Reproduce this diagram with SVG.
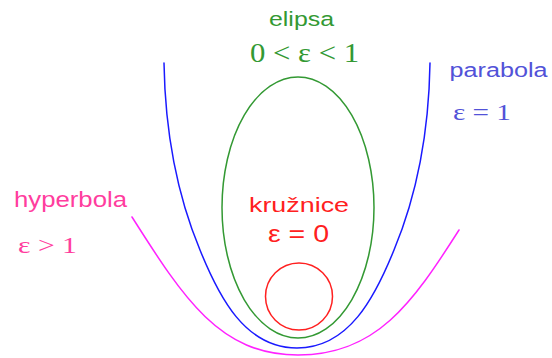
<svg xmlns="http://www.w3.org/2000/svg" width="552" height="358" viewBox="0 0 552 358">
<style>
.curve{fill:none;stroke-width:1.5;stroke-linejoin:round;stroke-linecap:round}
.sans{font-family:"Liberation Sans",Arial,sans-serif}
.serif{font-family:"Liberation Serif","Times New Roman",serif}
</style>
<rect width="552" height="358" fill="#ffffff"/>
<g id="hyperbola">
<path class="curve" stroke="#ff22ff" d="M132,217 C184,299 220,355 298,355 C376,355 412,304 459,230"/>
<text class="sans" x="14" y="207" font-size="22" textLength="113" lengthAdjust="spacingAndGlyphs" fill="#ff3d9e">hyperbola</text>
<text class="serif" x="18" y="253" font-size="24" textLength="59" lengthAdjust="spacingAndGlyphs" fill="#ff3d9e">ε &gt; 1</text>
</g>
<g id="parabola">
<path class="curve" stroke="#1a1aff" d="M164,63 C165,125 175,190 200,250 C219,297 245,348 297,348 C349,348 375,297 394,250 C419,190 429,125 430,63"/>
<text class="sans" x="449.5" y="77" font-size="20" textLength="98" lengthAdjust="spacingAndGlyphs" fill="#5252d8">parabola</text>
<text class="serif" x="453" y="120" font-size="24" textLength="58" lengthAdjust="spacingAndGlyphs" fill="#5252d8">ε = 1</text>
</g>
<g id="elipsa">
<ellipse class="curve" stroke="#339933" cx="298" cy="207.5" rx="76" ry="130.5"/>
<text class="sans" x="269" y="26" font-size="20.5" textLength="65" lengthAdjust="spacingAndGlyphs" fill="#339933">elipsa</text>
<text class="serif" x="250" y="62" font-size="28" textLength="109" lengthAdjust="spacingAndGlyphs" fill="#339933">0 &lt; ε &lt; 1</text>
</g>
<g id="kruznice">
<circle class="curve" stroke="#ff2020" cx="299" cy="296.5" r="33.5"/>
<text class="sans" x="249" y="211.5" font-size="21" textLength="100" lengthAdjust="spacingAndGlyphs" fill="#ff2020">kružnice</text>
<text class="sans" x="268" y="241.7" font-size="23" textLength="61" lengthAdjust="spacingAndGlyphs" fill="#ff2020">ε = 0</text>
</g>
<g id="connectors"/>
</svg>
